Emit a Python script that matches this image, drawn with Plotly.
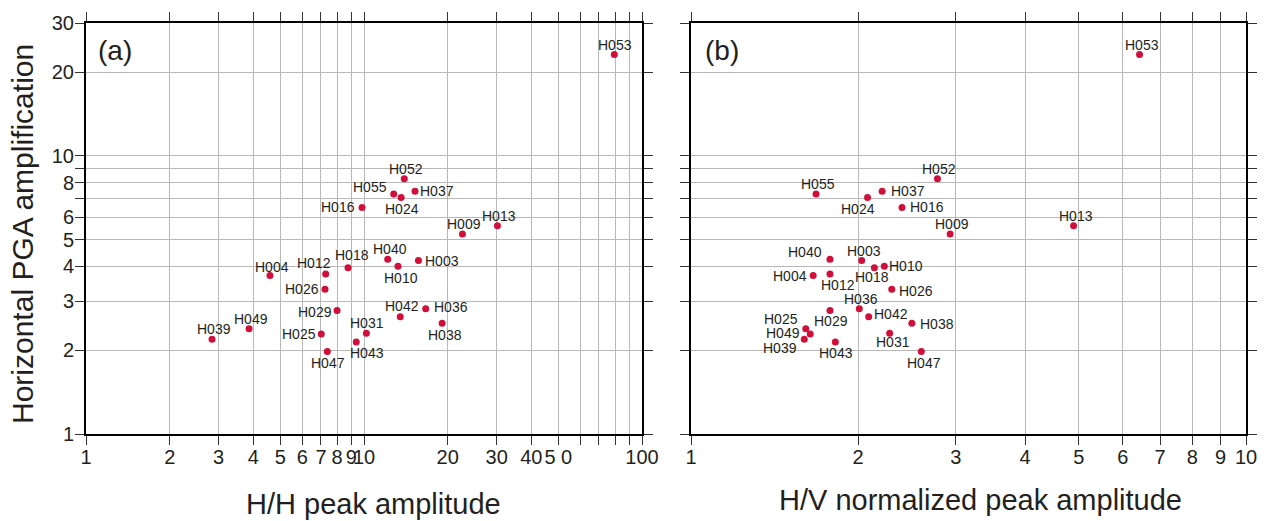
import numpy as np
import plotly.graph_objects as go

# ---------------- data ----------------
stations = ["H003", "H004", "H009", "H010", "H012", "H013", "H016", "H018", "H024", "H025",
            "H026", "H029", "H031", "H036", "H037", "H038", "H039", "H040", "H042", "H043",
            "H047", "H049", "H052", "H053", "H055"]
pga_amp = [4.20, 3.71, 5.23, 4.01, 3.76, 5.60, 6.52, 3.96, 7.08, 2.29,
           3.31, 2.78, 2.30, 2.82, 7.46, 2.50, 2.19, 4.25, 2.64, 2.14,
           1.98, 2.39, 8.26, 23.1, 7.28]
hh_peak = [15.7, 4.59, 22.6, 13.25, 7.28, 30.2, 9.84, 8.76, 13.6, 7.02,
           7.24, 8.0, 10.2, 16.67, 15.26, 19.1, 2.84, 12.17, 13.5, 9.38,
           7.38, 3.86, 13.96, 79.5, 12.79]
hv_peak = [2.03, 1.66, 2.93, 2.23, 1.78, 4.89, 2.40, 2.14, 2.08, 1.64,
           2.30, 1.78, 2.28, 2.01, 2.21, 2.50, 1.60, 1.78, 2.09, 1.82,
           2.60, 1.61, 2.78, 6.43, 1.68]

y_tickvals = [1, 2, 3, 4, 5, 6, 7, 8, 9, 10, 20, 30]
y_ticktext = ["1", "2", "3", "4", "5", "6", "", "8", "", "10", "20", "30"]
xa_tickvals = [1, 2, 3, 4, 5, 6, 7, 8, 9, 10, 20, 30, 40, 50, 60, 70, 80, 90, 100]
xa_ticktext = ["1", "2", "3", "4", "5", "6", "7", "8", "9", "10", "20", "30", "40", "5 0",
               "", "", "", "", "100"]
xb_tickvals = [1, 2, 3, 4, 5, 6, 7, 8, 9, 10]
xb_ticktext = ["1", "2", "3", "4", "5", "6", "7", "8", "9", "10"]

# label offsets in pixels (style only): (dx, dy) screen
off_a = {"H003": (24, 0), "H004": (2, -9), "H009": (2, -10), "H010": (3, 12), "H012": (-12, -11),
         "H013": (2, -10), "H016": (-24, 0), "H018": (4, -13), "H024": (1, 12), "H025": (-22, 0),
         "H026": (-23, 0), "H029": (-22, 2), "H031": (1, -10), "H036": (25, -2), "H037": (22, 0),
         "H038": (3, 12), "H039": (2, -10), "H040": (2, -10), "H042": (2, -11), "H043": (11, 11),
         "H047": (1, 12), "H049": (2, -10), "H052": (2, -10), "H053": (1, -10), "H055": (-24, -7)}
off_b = {"H003": (2, -10), "H004": (-23, 0), "H009": (2, -10), "H010": (22, 0), "H012": (8, 11),
         "H013": (2, -10), "H016": (25, 0), "H018": (-2, 9), "H024": (-10, 12), "H025": (-29, -15),
         "H026": (24, 2), "H029": (1, 11), "H031": (3, 9), "H036": (2, -10), "H037": (26, 0),
         "H038": (25, 1), "H039": (-24, 9), "H040": (-25, -7), "H042": (22, -3), "H043": (1, 11),
         "H047": (3, 12), "H049": (-23, 4), "H052": (2, -10), "H053": (2, -10), "H055": (2, -10)}

FONT = "Arial, Liberation Sans, Helvetica, sans-serif"
TXT = "#231f20"
RED = "#d0103a"
GRID = "#b8b8b8"

W, H = 1268, 521
L1, R1 = 86, 642
L2, R2 = 691, 1246
T, B = 23, 434

fig = go.Figure()
fig.add_trace(go.Scatter(x=hh_peak, y=pga_amp, mode="markers", xaxis="x", yaxis="y",
                         marker=dict(color=RED, size=7, line=dict(width=0)),
                         showlegend=False, hoverinfo="text", text=stations))
fig.add_trace(go.Scatter(x=hv_peak, y=pga_amp, mode="markers", xaxis="x2", yaxis="y2",
                         marker=dict(color=RED, size=7, line=dict(width=0)),
                         showlegend=False, hoverinfo="text", text=stations))

annotations = []
for s, xa, xb, yv in zip(stations, hh_peak, hv_peak, pga_amp):
    dx, dy = off_a[s]
    annotations.append(dict(x=np.log10(xa), y=np.log10(yv), xref="x", yref="y", text=s,
                            showarrow=False, xshift=dx, yshift=-dy, xanchor="center",
                            yanchor="middle", font=dict(family=FONT, size=14, color=TXT)))
    dx, dy = off_b[s]
    annotations.append(dict(x=np.log10(xb), y=np.log10(yv), xref="x2", yref="y2", text=s,
                            showarrow=False, xshift=dx, yshift=-dy, xanchor="center",
                            yanchor="middle", font=dict(family=FONT, size=14, color=TXT)))

# panel labels
annotations.append(dict(x=115 / W, y=1 - 50 / H, xref="paper", yref="paper", text="(a)",
                        showarrow=False, xanchor="center", yanchor="middle",
                        font=dict(family=FONT, size=28, color=TXT)))
annotations.append(dict(x=722 / W, y=1 - 50 / H, xref="paper", yref="paper", text="(b)",
                        showarrow=False, xanchor="center", yanchor="middle",
                        font=dict(family=FONT, size=28, color=TXT)))
# axis titles
annotations.append(dict(x=373 / W, y=1 - 504 / H, xref="paper", yref="paper",
                        text="H/H peak amplitude", showarrow=False, xanchor="center",
                        yanchor="middle", font=dict(family=FONT, size=29, color=TXT)))
annotations.append(dict(x=980 / W, y=1 - 500 / H, xref="paper", yref="paper",
                        text="H/V normalized peak amplitude", showarrow=False, xanchor="center",
                        yanchor="middle", font=dict(family=FONT, size=29, color=TXT)))
annotations.append(dict(x=22 / W, y=1 - 234 / H, xref="paper", yref="paper",
                        text="Horizontal PGA amplification", showarrow=False, textangle=-90,
                        xanchor="center", yanchor="middle",
                        font=dict(family=FONT, size=30, color=TXT)))

common = dict(type="log", showgrid=True, gridcolor=GRID, gridwidth=1, zeroline=False,
              showline=True, linecolor="black", linewidth=2, mirror="allticks",
              ticks="outside", ticklen=9, tickwidth=1, tickcolor="#333333",
              tickangle=0, tickfont=dict(family=FONT, size=20, color=TXT), tickmode="array",
              automargin=False)

fig.update_layout(
    width=W, height=H, margin=dict(l=0, r=0, t=0, b=0, autoexpand=False),
    paper_bgcolor="white", plot_bgcolor="white",
    xaxis=dict(common, domain=[L1 / W, R1 / W], range=[0, 2], anchor="y",
               tickvals=xa_tickvals, ticktext=xa_ticktext, ticklabelstandoff=-5),
    yaxis=dict(common, domain=[1 - B / H, 1 - T / H], range=[0, np.log10(30)], anchor="x",
               tickvals=y_tickvals, ticktext=y_ticktext, ticklabelstandoff=-3),
    xaxis2=dict(common, domain=[L2 / W, R2 / W], range=[0, 1], anchor="y2",
                tickvals=xb_tickvals, ticktext=xb_ticktext, ticklabelstandoff=-5),
    yaxis2=dict(common, domain=[1 - B / H, 1 - T / H], range=[0, np.log10(30)], anchor="x2",
                tickvals=y_tickvals, ticktext=y_ticktext, showticklabels=False),
    annotations=annotations,
)

fig.write_html("out.html")
